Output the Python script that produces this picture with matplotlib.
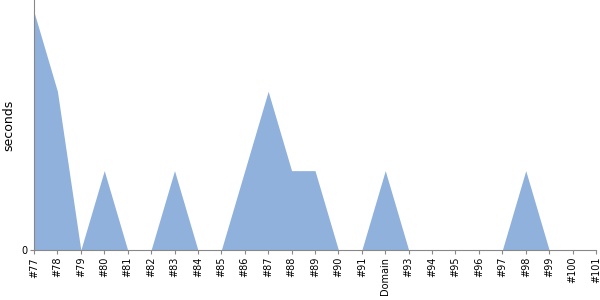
import matplotlib
matplotlib.use("Agg")
import matplotlib.pyplot as plt

plt.rcParams["font.family"] = ["DejaVu Sans"]

# データ
labels = ["#77", "#78", "#79", "#80", "#81", "#82", "#83", "#84", "#85", "#86",
          "#87", "#88", "#89", "#90", "#91", "Domain", "#93", "#94", "#95", "#96",
          "#97", "#98", "#99", "#100", "#101"]
seconds = [3, 2, 0, 1, 0, 0, 1, 0, 0, 1,
           2, 1, 1, 0, 0, 1, 0, 0, 0, 0,
           0, 1, 0, 0, 0]

fig = plt.figure(figsize=(6, 3), dpi=100)
ax = fig.add_axes([34 / 600, 50 / 300, 562 / 600, 250 / 300])

x = list(range(len(labels)))
ax.fill_between(x, 0, seconds, color="#8fb1dc", linewidth=0)

ax.set_xlim(0, len(labels) - 1)
ax.set_ylim(0, 3.15)
ax.set_xticks(x)
ax.set_xticklabels(labels, rotation=90, fontsize=7)
ax.set_yticks([0])
ax.set_yticklabels(["0"], fontsize=7)
ax.set_ylabel("seconds", fontsize=9)

for side in ["top", "right"]:
    ax.spines[side].set_visible(False)
for side in ["left", "bottom"]:
    ax.spines[side].set_color("#888888")
ax.tick_params(axis="both", length=3, color="#888888", pad=2)

fig.savefig("out.png", dpi=100)
